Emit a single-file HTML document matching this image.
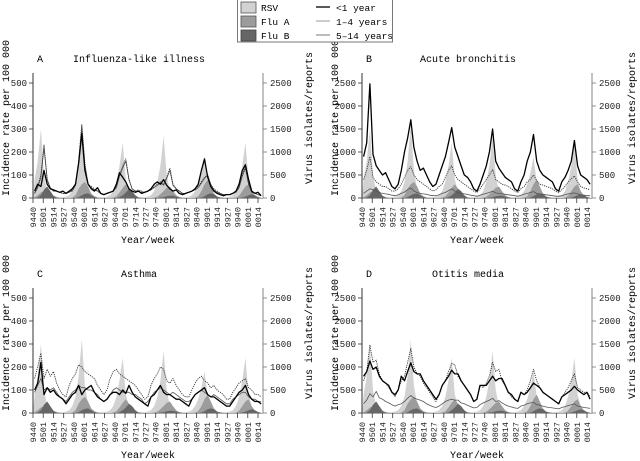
<!DOCTYPE html>
<html><head><meta charset="utf-8"><style>
html,body{margin:0;padding:0;background:#fff;}
svg{display:block;font-family:"Liberation Mono","DejaVu Sans Mono",monospace;}
</style></head><body>
<svg id="chart" width="640" height="461" viewBox="0 0 640 461">
<g id="legend">
<rect x="237.5" y="-1" width="155" height="43" fill="#fff" stroke="#777" stroke-width="1"/>
<g><rect x="241" y="2" width="15" height="11" fill="#d2d2d2" stroke="#555" stroke-width="0.8"/><text x="261" y="11" font-size="9.5">RSV</text></g>
<g><rect x="241" y="16" width="15" height="11" fill="#9c9c9c" stroke="#555" stroke-width="0.8"/><text x="261" y="25" font-size="9.5">Flu A</text></g>
<g><rect x="241" y="30" width="15" height="11" fill="#666" stroke="#444" stroke-width="0.8"/><text x="261" y="39" font-size="9.5">Flu B</text></g>
<g><line x1="316" y1="7" x2="330" y2="7" stroke="#000" stroke-width="1.3"/><text x="336" y="11" font-size="9.5">&lt;1 year</text></g>
<g><line x1="316" y1="21" x2="330" y2="21" stroke="#999" stroke-width="1"/><text x="336" y="25" font-size="9.5">1–4 years</text></g>
<g><line x1="316" y1="35" x2="330" y2="35" stroke="#777" stroke-width="1"/><text x="336" y="39" font-size="9.5">5–14 years</text></g>
</g>
</svg>
<script>
// x categories: week index since 1994 week 40, sampled every 4 weeks
const weekStart = 2;
const weekStep = 4;
const tickLabels = ["9440","9501","9514","9527","9540","9601","9614","9627","9640","9701","9714","9727","9740","9801","9814","9827","9840","9901","9914","9927","9940","0001","0014"];
const leftTicksSmall = [0,100,200,300,400,500];
const leftTicksLarge = [0,500,1000,1500,2000,2500];
const rightTicks = [0,500,1000,1500,2000,2500];

// virus isolates/reports (right axis)
const rsv = [400,800,1500,500,150,60,40,30,20,20,30,60,150, 350,800,1600,600,200,80,40,20,20,20,30,60,150, 350,700,1200,400,150,60,30,20,20,20,30,60,150, 350,700,1350,500,150,60,30,20,20,20,30,60,150, 300,550,900,350,120,50,30,20,20,20,30,60,150, 350,700,1200,400,150,60,30,20];
const fluA = [20,60,120,150,100,40,10,0,0,0,0,0,10, 60,200,300,350,250,100,40,10,0,0,0,0,10, 40,120,220,300,200,80,20,0,0,0,0,0,10, 30,80,150,220,250,150,60,20,0,0,0,0,10, 40,150,300,400,250,100,30,0,0,0,0,0,10, 50,150,250,300,150,50,10,0];
const fluB = [0,10,60,180,250,150,50,10,0,0,0,0,0, 0,20,60,90,100,60,20,0,0,0,0,0,0, 0,20,60,120,200,150,60,10,0,0,0,0,0, 0,10,20,40,50,50,30,10,0,0,0,0,0, 0,10,40,80,100,80,30,10,0,0,0,0,0, 0,10,30,60,80,60,20,0];

// A: influenza-like illness
const aU1 = [30,60,50,120,60,40,35,30,25,30,20,30,40, 60,150,280,120,60,40,30,45,20,15,20,25,30, 60,110,90,70,40,30,25,30,20,25,30,40,60, 70,60,80,55,40,30,35,20,15,20,25,30,40, 60,120,170,90,50,30,20,15,10,15,15,20,30, 60,120,145,80,30,20,25,10];
const a14 = [20,50,100,230,80,40,30,30,25,20,20,25,35, 60,160,320,150,60,50,40,30,20,15,20,25,30, 50,100,140,170,80,40,30,35,30,25,30,35,50, 60,70,60,90,130,60,40,30,20,20,25,30,40, 50,70,90,100,60,40,30,20,15,15,15,20,30, 50,100,140,60,30,20,15,10];
const a514 = [20,45,90,220,80,45,30,30,25,20,20,25,30, 55,150,310,140,60,45,35,30,20,15,20,25,30, 45,95,130,160,80,40,30,30,25,25,30,35,45, 55,65,55,85,120,55,40,30,20,20,25,30,35, 45,65,85,100,55,35,25,20,15,15,15,20,25, 45,95,130,60,25,20,15,10];
// B: acute bronchitis
const bU1 = [900,1200,2480,950,700,600,500,550,400,250,200,300,600, 1000,1300,1700,1100,800,600,650,500,350,250,300,500,700, 900,1200,1530,1100,900,700,500,450,350,200,150,300,500, 700,1000,1500,800,650,550,450,400,350,200,150,350,500, 800,1000,1380,800,600,500,450,400,350,200,150,350,450, 600,800,1250,700,500,450,400,300];
const b14 = [400,600,900,450,350,300,250,250,200,150,150,200,300, 450,600,680,500,400,350,300,250,200,150,180,250,300, 450,600,700,500,400,350,300,250,200,150,120,200,300, 400,500,620,400,350,300,280,250,200,150,120,200,250, 350,400,500,380,300,280,250,230,200,150,120,180,250, 350,420,480,350,250,220,200,180];
const b514 = [100,150,200,180,150,120,100,90,80,60,50,70,100, 130,180,220,150,120,100,90,80,60,50,50,70,100, 120,160,200,150,120,100,90,80,60,50,40,60,80, 100,120,150,110,100,90,80,70,60,50,40,60,80, 100,120,140,100,90,80,70,60,50,40,40,50,70, 90,100,110,90,70,60,50,50];
// C: asthma
const cU1 = [100,130,220,80,110,90,100,80,70,60,40,60,80, 90,120,80,100,110,120,90,70,60,50,60,80,90, 90,80,100,85,120,90,70,60,50,40,30,70,80, 100,120,90,80,80,70,60,60,50,40,30,60,80, 90,100,110,80,70,70,60,50,40,30,30,50,70, 90,100,120,80,60,50,50,40];
const c14 = [150,200,260,150,190,160,180,130,100,80,70,120,150, 170,210,200,180,170,160,150,120,100,80,100,150,180, 190,170,160,150,140,130,120,100,80,60,70,120,150, 170,200,190,140,130,150,120,100,80,70,70,100,130, 150,160,140,130,110,120,100,90,80,60,60,90,110, 130,140,150,110,100,80,80,70];
const c514 = [90,120,150,100,110,100,110,90,70,60,50,70,90, 100,120,110,110,100,100,90,80,60,50,60,80,100, 110,100,90,90,90,80,80,70,60,40,50,70,90, 100,110,100,90,80,90,80,70,60,50,50,60,80, 90,100,90,80,70,80,70,60,50,40,40,60,70, 80,90,90,70,60,60,50,50];
// D: otitis media
const dU1 = [800,900,1130,950,1000,800,700,650,600,450,400,500,800, 700,900,1090,900,850,850,700,600,500,400,300,400,600, 700,800,930,850,850,700,600,500,400,250,300,600,600, 600,700,800,700,750,750,600,450,400,300,250,450,400, 450,550,650,600,550,450,400,350,300,250,200,350,400, 450,500,580,500,450,400,450,300];
const d14 = [700,900,1480,1100,1150,850,700,650,550,450,350,500,700, 800,1100,1400,1000,850,800,650,550,450,350,250,400,600, 700,900,1080,1050,800,700,600,500,400,250,300,600,550, 650,800,1100,900,950,700,600,450,350,300,250,450,400, 500,700,950,700,550,450,400,350,300,250,200,350,450, 550,700,850,550,500,450,450,350];
const d514 = [200,280,420,350,470,330,300,250,220,180,150,180,200, 250,320,380,330,300,280,250,200,170,140,120,150,200, 250,280,300,280,280,220,200,170,140,110,120,180,220, 250,280,320,250,270,220,180,150,130,110,100,150,170, 200,220,230,180,170,150,130,120,110,100,90,120,140, 160,180,200,150,140,120,110,100];

const NS = "http://www.w3.org/2000/svg";
const svg = document.getElementById("chart");
function mk(tag, attrs, parent) {
  const e = document.createElementNS(NS, tag);
  for (const k in attrs) e.setAttribute(k, attrs[k]);
  (parent || svg).appendChild(e);
  return e;
}

function panel(p) {
  const g = mk("g", {});
  
  
  const x0 = p.x0, x1 = p.x0 + 230, y0 = p.y0, h = 115;
  const wx = w => x0 + w * 225 / 286;
  const yl = v => y0 - v / p.lmax * h;
  const yr = v => y0 - v / 2500 * h;

  const areas = [[rsv, "#d2d2d2", "rsv-area"], [fluA, "#9c9c9c", "flu-a-area"], [fluB, "#666", "flu-b-area"]];
  areas.forEach(a => {
    let d = "M" + wx(0) + "," + y0;
    a[0].forEach((v, i) => { d += " L" + wx(weekStart + i * weekStep).toFixed(1) + "," + yr(v).toFixed(1); });
    d += " L" + wx(weekStart + (a[0].length - 1) * weekStep).toFixed(1) + "," + y0 + " Z";
    const el = mk("path", {d: d, fill: a[1], stroke: "none"}, g);
    
    
  });
  const lines = [[p.s514, "#555", 0.8, null, "line-5-14-years"], [p.s14, "#333", 0.9, "1.2 1", "line-1-4-years"], [p.u1, "#000", 1.3, null, "line-under-1-year"]];
  lines.forEach(l => {
    let d = "";
    l[0].forEach((v, i) => { d += (i ? " L" : "M") + wx(weekStart + i * weekStep).toFixed(1) + "," + yl(v).toFixed(1); });
    const el = mk("path", {d: d, fill: "none", stroke: l[1], "stroke-width": l[2], "stroke-linejoin": "round"}, g);
    if (l[3]) el.setAttribute("stroke-dasharray", l[3]);
    
    
  });
  const la = mk("line", {x1: x0, y1: y0, x2: x0, y2: y0 - 125, stroke: "#333", "stroke-width": 1}, g);
  
  
  const ra = mk("line", {x1: x1, y1: y0, x2: x1, y2: y0 - 125, stroke: "#999", "stroke-width": 1.2}, g);
  
  
  const ba = mk("line", {x1: x0, y1: y0 + 0.5, x2: x1, y2: y0 + 0.5, stroke: "#555", "stroke-width": 0.6}, g);
  
  
  p.lt.forEach(v => {
    mk("line", {x1: x0 - 4, y1: yl(v), x2: x0, y2: yl(v), stroke: "#333", "stroke-width": 0.8}, g);
    const t = mk("text", {x: x0 - 6, y: yl(v) + 3, "font-size": 9, "text-anchor": "end", fill: "#222"}, g);
    t.textContent = v;
    
    
  });
  rightTicks.forEach(v => {
    mk("line", {x1: x1, y1: yr(v), x2: x1 + 4, y2: yr(v), stroke: "#777", "stroke-width": 0.8}, g);
    const t = mk("text", {x: x1 + 7, y: yr(v) + 3, "font-size": 9, fill: "#222"}, g);
    t.textContent = v;
    
    
  });
  tickLabels.forEach((lab, i) => {
    const x = wx(i * 13);
    mk("line", {x1: x, y1: y0, x2: x, y2: y0 + 5, stroke: "#333", "stroke-width": 0.8}, g);
    const t = mk("text", {x: 0, y: 0, "font-size": 8.5, "text-anchor": "end", fill: "#222", transform: "translate(" + (x + 3) + "," + (y0 + 9) + ") rotate(-90)"}, g);
    t.textContent = lab;
    
    
  });
  const xt = mk("text", {x: (x0 + x1) / 2, y: y0 + 45, "font-size": 10, "text-anchor": "middle"}, g);
  xt.textContent = "Year/week";
  
  
  const yt = mk("text", {x: 0, y: 0, "font-size": 10, "text-anchor": "middle", transform: "translate(" + (x0 - 24) + "," + (y0 - 80) + ") rotate(-90)"}, g);
  yt.textContent = "Incidence rate per 100 000";
  
  
  const rt = mk("text", {x: 0, y: 0, "font-size": 10, "text-anchor": "middle", transform: "translate(" + (x1 + p.rOff) + "," + (y0 - 80) + ") rotate(-90)"}, g);
  rt.textContent = "Virus isolates/reports";
  
  
  const lt = mk("text", {x: x0 + 4, y: y0 - 136, "font-size": 10}, g);
  lt.textContent = p.letter;
  
  
  const tt = mk("text", {x: x0 + 106, y: y0 - 136, "font-size": 10, "text-anchor": "middle"}, g);
  tt.textContent = p.title;
  
  
}

panel({name: "panel-a-influenza", letter: "A", title: "Influenza-like illness", x0: 33, y0: 198, lmax: 500, lt: leftTicksSmall, rOff: 49, u1: aU1, s14: a14, s514: a514});
panel({name: "panel-b-bronchitis", letter: "B", title: "Acute bronchitis", x0: 362, y0: 198, lmax: 2500, lt: leftTicksLarge, rOff: 43, u1: bU1, s14: b14, s514: b514});
panel({name: "panel-c-asthma", letter: "C", title: "Asthma", x0: 33, y0: 413, lmax: 500, lt: leftTicksSmall, rOff: 49, u1: cU1, s14: c14, s514: c514});
panel({name: "panel-d-otitis", letter: "D", title: "Otitis media", x0: 362, y0: 413, lmax: 2500, lt: leftTicksLarge, rOff: 43, u1: dU1, s14: d14, s514: d514});
svg.appendChild(document.getElementById("legend"));
</script>
</body></html>
